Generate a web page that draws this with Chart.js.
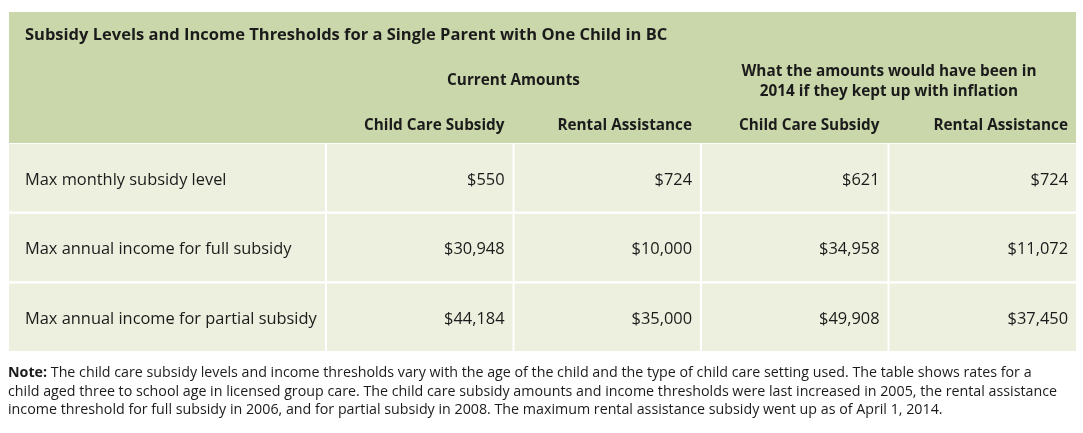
<!DOCTYPE html>
<html>
<head>
<meta charset="utf-8">
<script src="https://cdn.jsdelivr.net/npm/chart.js@4"></script>
<style>
  body { margin: 0; background: #fff; }
</style>
</head>
<body>
<canvas id="myChart" width="1083" height="433"></canvas>
<script>
const title = 'Subsidy Levels and Income Thresholds for a Single Parent with One Child in BC';
const rowLabels = ['Max monthly subsidy level', 'Max annual income for full subsidy', 'Max annual income for partial subsidy'];
const groupLabels = [['Current Amounts'], ['What the amounts would have been in', '2014 if they kept up with inflation']];
const columnLabels = ['Child Care Subsidy', 'Rental Assistance', 'Child Care Subsidy', 'Rental Assistance'];
const currentChildCare = [550, 30948, 44184];
const currentRental = [724, 10000, 35000];
const inflationChildCare = [621, 34958, 49908];
const inflationRental = [724, 11072, 37450];
const noteLines = [
  'The child care subsidy levels and income thresholds vary with the age of the child and the type of child care setting used. The table shows rates for a',
  'child aged three to school age in licensed group care. The child care subsidy amounts and income thresholds were last increased in 2005, the rental assistance',
  'income threshold for full subsidy in 2006, and for partial subsidy in 2008. The maximum rental assistance subsidy went up as of April 1, 2014.'
];

// column layout (widths in x-axis units)
const colWidths = [317, 187.5, 187.5, 187.5, 187.5];
const edges = [0];
colWidths.forEach(w => edges.push(edges[edges.length - 1] + w));

const valueColumns = [currentChildCare, currentRental, inflationChildCare, inflationRental];
const font = '"Open Sans", sans-serif';
const textColor = '#1b1b1b';
const nudge = 2; // canvas 'middle' sits a little high for this font

const datasets = [rowLabels].concat(valueColumns).map((col, i) => ({
  label: i === 0 ? 'row' : columnLabels[i - 1],
  data: rowLabels.map(() => [edges[i] + (i > 0 ? 1 : 0), edges[i + 1] - (i < 4 ? 1 : 0)]),
  backgroundColor: '#edf0de',
  borderWidth: 0,
  grouped: false,
  barPercentage: 0.97,
  categoryPercentage: 1
}));

function money(v) {
  return '$' + v.toLocaleString('en-US');
}

const tablePlugin = {
  id: 'tableText',
  beforeDatasetsDraw(chart) {
    const c = chart.ctx;
    const a = chart.chartArea;
    c.save();
    c.fillStyle = '#cad7aa';
    c.fillRect(a.left, 12, a.right - a.left, a.top - 12);
    c.restore();
  },
  afterDatasetsDraw(chart) {
    const c = chart.ctx;
    const a = chart.chartArea;
    c.save();
    c.fillStyle = textColor;
    c.textBaseline = 'middle';

    // title
    c.font = 'bold 16.5px ' + font;
    c.textAlign = 'left';
    c.fillText(title, a.left + 16, 33 + nudge);

    // body cells
    c.font = '16.4px ' + font;
    chart.getDatasetMeta(0).data.forEach((bar, j) => {
      c.textAlign = 'left';
      c.fillText(rowLabels[j], bar.base + 16, bar.y + nudge);
    });
    valueColumns.forEach((col, i) => {
      const meta = chart.getDatasetMeta(i + 1);
      meta.data.forEach((bar, j) => {
        c.textAlign = 'right';
        c.fillText(money(col[j]), bar.x - 8, bar.y + nudge);
      });
    });

    // column headers
    c.font = 'bold 15.3px ' + font;
    columnLabels.forEach((lab, i) => {
      const bar = chart.getDatasetMeta(i + 1).data[0];
      c.textAlign = 'right';
      c.fillText(lab, bar.x - 8, a.top - 19 + nudge);
    });

    // group headers
    groupLabels.forEach((lines, g) => {
      const b1 = chart.getDatasetMeta(g * 2 + 1).data[0];
      const b2 = chart.getDatasetMeta(g * 2 + 2).data[0];
      const cx = (b1.base + b2.x) / 2;
      c.textAlign = 'center';
      if (lines.length === 1) {
        c.fillText(lines[0], cx, a.top - 64 + nudge);
      } else {
        c.fillText(lines[0], cx, a.top - 73 + nudge);
        c.fillText(lines[1], cx, a.top - 53 + nudge);
      }
    });

    // note
    c.textAlign = 'left';
    noteLines.forEach((line, k) => {
      const y = a.bottom + 21 + k * 18.5;
      let x = 8;
      if (k === 0) {
        c.font = 'bold 14.25px ' + font;
        c.fillText('Note:', x, y);
        x += c.measureText('Note: ').width;
      }
      c.font = '14.25px ' + font;
      c.fillText(line, x, y);
    });
    c.restore();
  }
};

new Chart(document.getElementById('myChart'), {
  type: 'bar',
  data: {
    labels: rowLabels,
    datasets: datasets
  },
  options: {
    indexAxis: 'y',
    responsive: false,
    animation: false,
    layout: {
      padding: { left: 9, right: 7, top: 143, bottom: 81 }
    },
    scales: {
      x: { display: false, min: edges[0], max: edges[edges.length - 1] },
      y: { display: false }
    },
    plugins: {
      legend: { display: false },
      tooltip: { enabled: false }
    }
  },
  plugins: [tablePlugin]
});
</script>
</body>
</html>
